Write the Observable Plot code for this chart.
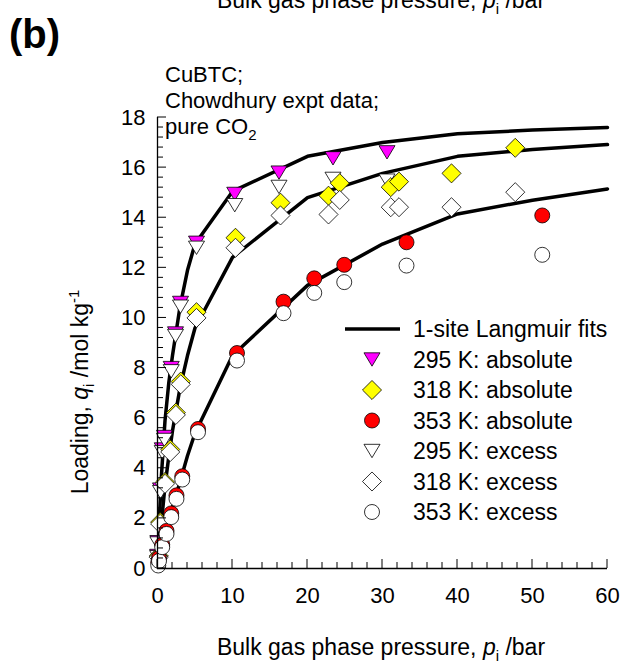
<!DOCTYPE html>
<html><head><meta charset="utf-8">
<script src="https://cdn.jsdelivr.net/npm/d3@7"></script>
<script src="https://cdn.jsdelivr.net/npm/@observablehq/plot@0.6"></script>
<style>body{margin:0;background:#fff} svg{display:block}</style>
</head><body><div id="chart"></div>
<script>
// ---- data ----
const p295   = [0.02, 0.05, 0.4, 0.63, 0.93, 1.83, 2.4, 3.07, 5.2, 10.3, 16.2, 23.4, 30.6];
const abs295 = [0.5, 1.05, 3.15, 4.75, 5.25, 8.0, 9.38, 10.6, 13.0, 14.95, 15.8, 16.37, 16.61];
const exc295 = [0.45, 1.0, 3.05, 4.64, 5.13, 7.87, 9.28, 10.45, 12.8, 14.5, 15.23, 15.55, 15.48];

const p318   = [0.17, 0.35, 1.0, 1.7, 2.45, 3.1, 5.2, 10.4, 16.4, 22.8, 24.3, 31.1, 32.2, 39.2, 47.7];
const abs318 = [0.5, 1.85, 3.45, 4.75, 6.22, 7.46, 10.23, 13.2, 14.6, 14.88, 15.38, 15.22, 15.44, 15.77, 16.79];
const exc318 = [0.45, 1.78, 3.38, 4.65, 6.13, 7.35, 10.0, 12.8, 14.09, 14.13, 14.71, 14.42, 14.42, 14.42, 15.02];

const p353   = [0.1, 0.2, 0.63, 1.2, 1.83, 2.53, 3.3, 5.4, 10.6, 16.8, 20.9, 24.9, 33.2, 51.3];
const abs353 = [0.25, 0.42, 0.95, 1.5, 2.2, 2.92, 3.68, 5.57, 8.6, 10.65, 11.58, 12.12, 13.02, 14.09];
const exc353 = [0.12, 0.3, 0.85, 1.38, 2.05, 2.78, 3.55, 5.44, 8.3, 10.19, 11.0, 11.43, 12.09, 12.52];

// 1-site Langmuir fit curves (vertices)
const pFit   = [0, 0.25, 0.5, 1, 1.5, 2, 3, 4, 5, 10, 20, 30, 40, 50, 60];
const fit295 = [0, 2.0, 3.6, 5.9, 7.4, 8.5, 10.45, 11.9, 12.95, 15.05, 16.45, 17.0, 17.35, 17.5, 17.6];
const fit318 = [0, 0.9, 1.75, 3.3, 4.45, 5.5, 7.2, 8.5, 9.6, 12.42, 14.8, 15.77, 16.45, 16.72, 16.92];
const fit353 = [0, 0.35, 0.7, 1.3, 1.9, 2.45, 3.45, 4.5, 5.4, 8.5, 11.3, 12.95, 14.15, 14.7, 15.15];

const xTicks = [0, 10, 20, 30, 40, 50, 60];
const yTicks = [0, 2, 4, 6, 8, 10, 12, 14, 16, 18];

const legendLabels = ["1-site Langmuir fits", "295 K: absolute", "318 K: absolute", "353 K: absolute",
                      "295 K: excess", "318 K: excess", "353 K: excess"];
const seriesFill = ["#ff00ff", "#ffff00", "#ff0000", "#ffffff", "#ffffff", "#ffffff"];

// ---- symbols ----
const triDown = {draw(ctx, size) { const r = Math.sqrt(size / Math.PI); const w = r * 1.07, h = r * 0.89;
  ctx.moveTo(-w, -h); ctx.lineTo(w, -h); ctx.lineTo(0, h); ctx.closePath(); }};
const diamond = {draw(ctx, size) { const r = Math.sqrt(size / Math.PI) * 1.27;
  ctx.moveTo(0, -r); ctx.lineTo(r, 0); ctx.lineTo(0, r); ctx.lineTo(-r, 0); ctx.closePath(); }};
const circle = {draw(ctx, size) { const r = Math.sqrt(size / Math.PI);
  ctx.moveTo(r, 0); ctx.arc(0, 0, r, 0, 2 * Math.PI); ctx.closePath(); }};
const seriesSym = [triDown, diamond, circle, triDown, diamond, circle];

// ---- tables (legend order: 295 abs, 318 abs, 353 abs, 295 exc, 318 exc, 353 exc) ----
const toRows = (ps, qs) => ps.map((p, i) => ({p, q: qs[i]}));
const series = [toRows(p295, abs295), toRows(p318, abs318), toRows(p353, abs353),
                toRows(p295, exc295), toRows(p318, exc318), toRows(p353, exc353)];
const order = [0, 3, 1, 4, 2, 5]; // drawing order
const fits = [["295", fit295], ["318", fit318], ["353", fit353]]
  .flatMap(([T, qs]) => pFit.map((p, i) => ({T, p, q: qs[i]})));

const xMinor = d3.range(0, 61, 2).filter(v => v % 10 !== 0);
const yMinor = d3.range(0, 45).map(i => +(i * 0.4).toFixed(2)).filter(v => v <= 18 && Math.abs(v / 2 - Math.round(v / 2)) > 1e-6);

const font = "'Liberation Sans', Arial, sans-serif";
const r0 = 7.5;

const chart = Plot.plot({
  width: 629, height: 663,
  marginLeft: 157, marginRight: 22, marginTop: 117, marginBottom: 95,
  x: {domain: [0, 60], label: null},
  y: {domain: [0, 18], label: null},
  style: {fontFamily: font, background: "white", color: "black", overflow: "visible"},
  marks: [
    Plot.line(fits, {x: "p", y: "q", z: "T", stroke: "black", strokeWidth: 3.5, strokeLinejoin: "round"}),
    ...order.map(k => Plot.dot(series[k], {x: "p", y: "q", r: r0, symbol: seriesSym[k],
        fill: seriesFill[k], stroke: "black", strokeWidth: 0.8})),
    Plot.ruleX([0], {strokeWidth: 1.3}),
    Plot.ruleY([0], {strokeWidth: 1.3}),
    Plot.axisX({ticks: xTicks, tickSize: 0, tickPadding: 19, fontSize: 22, label: null, tickFormat: d => String(d)}),
    Plot.axisY({ticks: yTicks, tickSize: 0, tickPadding: 12, fontSize: 22, label: null, tickFormat: d => String(d)})
  ]
});
document.getElementById("chart").appendChild(chart);

// ---- inward ticks, placed with the chart's own scales ----
const sx = chart.scale("x"), sy = chart.scale("y");
const svg = d3.select(chart);
const tk = svg.append("g").attr("stroke", "black").attr("stroke-width", 1);
const x0 = sx.apply(0), y0 = sy.apply(0);
xTicks.forEach(v => tk.append("line").attr("x1", sx.apply(v)).attr("x2", sx.apply(v)).attr("y1", y0).attr("y2", y0 - 9));
xMinor.forEach(v => tk.append("line").attr("x1", sx.apply(v)).attr("x2", sx.apply(v)).attr("y1", y0).attr("y2", y0 - 6));
yTicks.forEach(v => tk.append("line").attr("y1", sy.apply(v)).attr("y2", sy.apply(v)).attr("x1", x0).attr("x2", x0 + 9));
yMinor.forEach(v => tk.append("line").attr("y1", sy.apply(v)).attr("y2", sy.apply(v)).attr("x1", x0).attr("x2", x0 + 6));

// ---- annotations ----
const g = svg.append("g").attr("font-family", font).attr("fill", "black").attr("text-anchor", "start");

function pressureTitle(y) {
  const t = g.append("text").attr("x", 381).attr("y", y).attr("text-anchor", "middle").attr("font-size", 23);
  t.append("tspan").text("Bulk gas phase pressure, ");
  t.append("tspan").attr("font-style", "italic").text("p");
  t.append("tspan").attr("font-size", 15).attr("dy", 6).text("i");
  t.append("tspan").attr("dy", -6).text(" /bar");
}
pressureTitle(8);
pressureTitle(655);

g.append("text").attr("x", 9).attr("y", 48).attr("font-size", 40).attr("font-weight", "bold").text("(b)");

const yt = g.append("text").attr("transform", "translate(88,392) rotate(-90)")
  .attr("text-anchor", "middle").attr("font-size", 23);
yt.append("tspan").text("Loading, ");
yt.append("tspan").attr("font-style", "italic").text("q");
yt.append("tspan").attr("font-size", 15).attr("dy", 6).text("i");
yt.append("tspan").attr("dy", -6).text(" /mol kg");
yt.append("tspan").attr("font-size", 15).attr("dy", -9).text("-1");

const note = g.append("g").attr("font-size", 22);
note.append("text").attr("x", 165).attr("y", 82).text("CuBTC;");
note.append("text").attr("x", 165).attr("y", 108).text("Chowdhury expt data;");
const co = note.append("text").attr("x", 165).attr("y", 134);
co.append("tspan").text("pure CO");
co.append("tspan").attr("font-size", 15).attr("dy", 6).text("2");

// ---- legend ----
const leg = g.append("g");
const rowY = i => 329 + i * 30.5;
leg.append("line").attr("x1", 345).attr("x2", 400).attr("y1", rowY(0)).attr("y2", rowY(0))
  .attr("stroke", "black").attr("stroke-width", 3.5);
[0, 1, 2, 3, 4, 5].forEach(k => {
  leg.append("path").attr("transform", `translate(372,${rowY(k + 1)})`)
    .attr("d", d3.symbol().type(seriesSym[k]).size(Math.PI * r0 * r0)())
    .attr("fill", seriesFill[k]).attr("stroke", "black").attr("stroke-width", 0.8);
});
legendLabels.forEach((s, i) => {
  leg.append("text").attr("x", 413).attr("y", rowY(i) + 8).attr("font-size", 23).text(s);
});
</script></body></html>
